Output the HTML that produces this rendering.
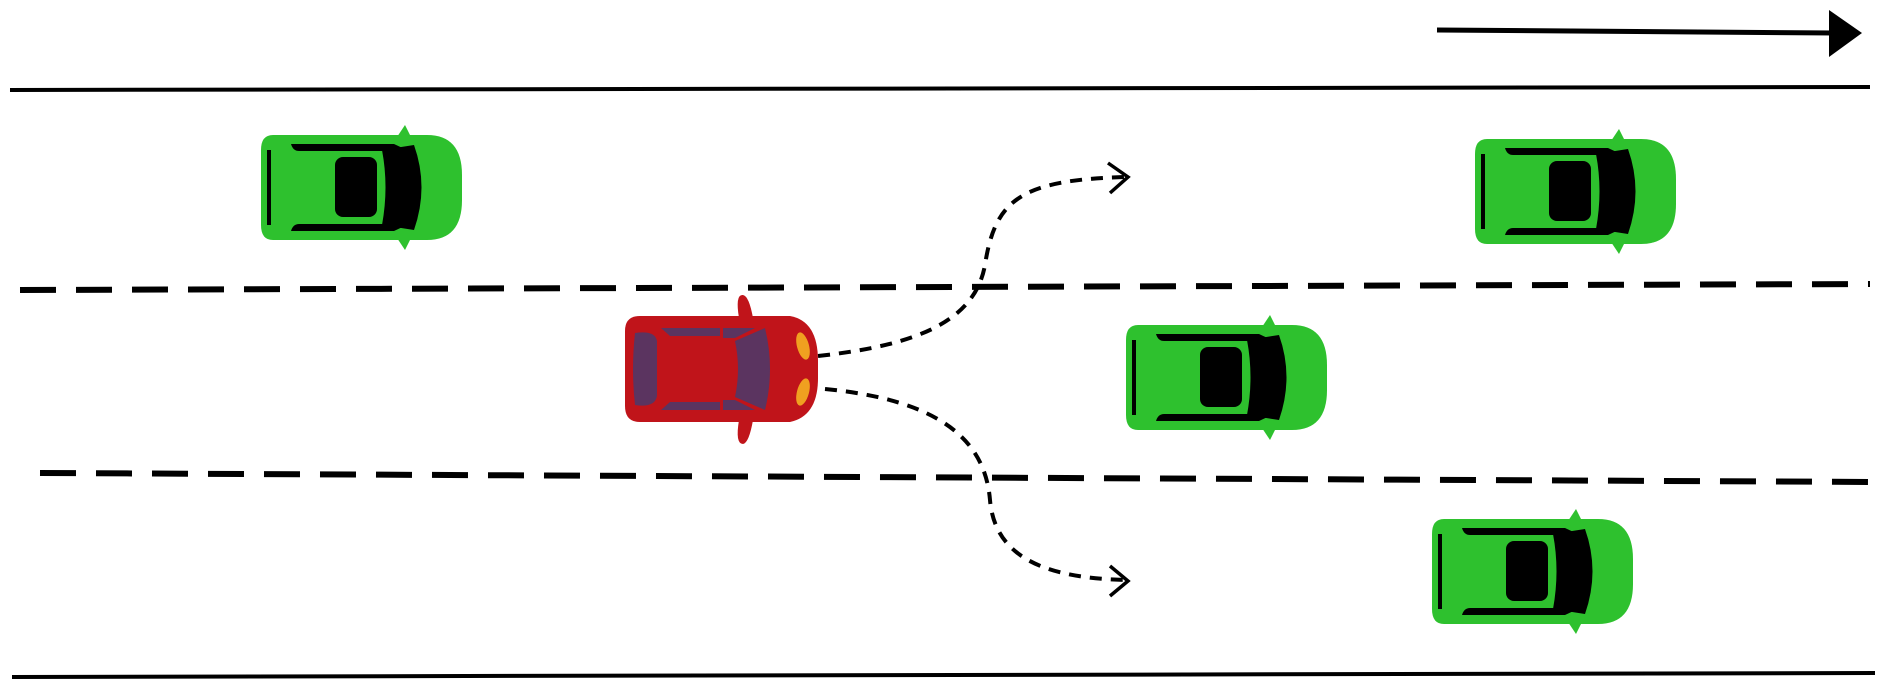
<!DOCTYPE html>
<html><head><meta charset="utf-8"><style>
html,body{margin:0;padding:0;background:#fff;width:1890px;height:690px;overflow:hidden}
</style></head><body>
<svg width="1890" height="690" viewBox="0 0 1890 690" xmlns="http://www.w3.org/2000/svg">
<defs>
<g id="gcar">
  <path d="M138,2 L146,-10 L152,2 Z" fill="#2ec12e"/>
  <path d="M138,103 L146,115 L152,103 Z" fill="#2ec12e"/>
  <path d="M14,0 H168 Q203,0 203,40 V65 Q203,105 168,105 H14 Q2,105 2,90 V15 Q2,0 14,0 Z" fill="#2ec12e"/>
  <path d="M32,9 H135 L150,16 H40 Q34,16 32,9 Z" fill="#000"/>
  <path d="M32,96 H135 L150,89 H40 Q34,89 32,96 Z" fill="#000"/>
  <rect x="76" y="22" width="42" height="60" rx="8" fill="#000"/>
  <path d="M123,15 L155,10 Q170,52 155,95 L123,90 Q130,52 123,15 Z" fill="#000"/>
  <rect x="8" y="15" width="4" height="75" fill="#000"/>
</g>
</defs>
<line x1="10" y1="90" x2="1870" y2="87" stroke="#000" stroke-width="4"/>
<line x1="12" y1="677" x2="1875" y2="673" stroke="#000" stroke-width="4"/>
<line x1="20" y1="290" x2="1870" y2="284" stroke="#000" stroke-width="6" stroke-dasharray="36,20"/>
<line x1="40" y1="473" x2="1880" y2="482" stroke="#000" stroke-width="6" stroke-dasharray="36,20"/>
<line x1="1437" y1="30" x2="1835" y2="33" stroke="#000" stroke-width="5"/>
<polygon points="1829,10 1862,33 1829,57" fill="#000"/>
<path d="M818,356 C920,345 975,320 985,265 C995,200 1020,180 1125,177" fill="none" stroke="#000" stroke-width="4" stroke-dasharray="12,9"/>
<polyline points="1108,163 1128,177 1110,193" fill="none" stroke="#000" stroke-width="3.5"/>
<path d="M825,389 C940,400 985,440 990,500 C995,560 1050,578 1125,580" fill="none" stroke="#000" stroke-width="4" stroke-dasharray="12,9"/>
<polyline points="1110,566 1128,581 1110,596" fill="none" stroke="#000" stroke-width="3.5"/>
<use href="#gcar" transform="translate(259,135)"/>
<use href="#gcar" transform="translate(1473,139)"/>
<use href="#gcar" transform="translate(1124,325)"/>
<use href="#gcar" transform="translate(1430,519)"/>
<g transform="translate(625,316)">
  <path d="M114,2 Q110,-22 118,-21 Q124,-20 128,2 Z" fill="#c0141a"/>
  <path d="M114,104 Q110,128 118,128 Q124,127 128,104 Z" fill="#c0141a"/>
  <path d="M15,0 H165 Q193,5 193,45 V62 Q193,100 165,106 H15 Q0,106 0,90 V15 Q0,0 15,0 Z" fill="#c0141a"/>
  <path d="M10,17 Q30,14 32,25 V80 Q30,92 10,89 Q6,53 10,17 Z" fill="#5b3460"/>
  <path d="M36,12 H95 V20 H45 Z" fill="#5b3460"/>
  <path d="M98,12 H130 L110,22 H98 Z" fill="#5b3460"/>
  <path d="M36,94 H95 V86 H45 Z" fill="#5b3460"/>
  <path d="M98,94 H130 L110,84 H98 Z" fill="#5b3460"/>
  <path d="M110,25 L140,12 Q150,53 140,94 L110,81 Q116,53 110,25 Z" fill="#5b3460"/>
  <ellipse cx="178" cy="30" rx="6" ry="14" fill="#f0a020" transform="rotate(-15 178 30)"/>
  <ellipse cx="178" cy="76" rx="6" ry="14" fill="#f0a020" transform="rotate(15 178 76)"/>
</g>
</svg>
</body></html>
